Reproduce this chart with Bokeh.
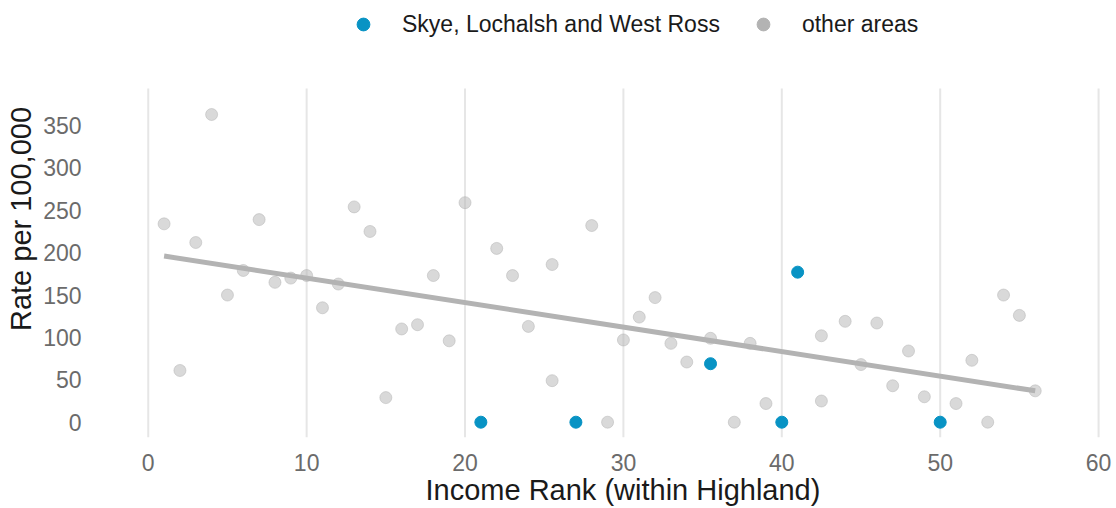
from bokeh.plotting import figure
from bokeh.models import Range1d, FixedTicker, Legend, LegendItem, ColumnDataSource, Title
from bokeh.embed import file_html
from bokeh.resources import INLINE

# ---- data ----
other_rank = [1, 2, 3, 4, 5, 6, 7, 8, 9, 10, 11, 12, 13, 14, 15, 16, 17, 18, 19, 20,
              22, 23, 24, 25.5, 25.5, 28, 29, 30, 31, 32, 33, 34, 35.5, 37, 38, 39,
              42.5, 42.5, 44, 45, 46, 47, 48, 49, 51, 52, 53, 54, 55, 56]
other_rate = [234, 61, 212, 363, 150, 179, 239, 165, 170, 173, 135, 163, 254, 225, 29, 110, 115, 173, 96, 259,
              205, 173, 113, 186, 49, 232, 0, 97, 124, 147, 93, 71, 99, 0, 93, 22,
              102, 25, 119, 68, 117, 43, 84, 30, 22, 73, 0, 150, 126, 37]
skye_rank = [21, 27, 35.5, 40, 41, 50]
skye_rate = [0, 0, 69, 0, 177, 0]
trend_rank = [1, 56]
trend_rate = [196, 37]
x_ticks = [0, 10, 20, 30, 40, 50, 60]
y_ticks = [0, 50, 100, 150, 200, 250, 300, 350]
series_names = ["Skye, Lochalsh and West Ross", "other areas"]
x_title = "Income Rank (within Highland)"
y_title = "Rate per 100,000"

BLUE = "#0893c4"
GREY = "#b3b3b3"
FONT = "Liberation Sans"

# panel spans Y_LO..Y_PANEL_TOP; the space above holds the legend
Y_LO, Y_PANEL_TOP, Y_CANVAS_TOP = -18.05, 393.7, 497.5

p = figure(width=1116, height=508, output_backend="svg", toolbar_location=None,
           x_range=Range1d(-3.52, 60.5), y_range=Range1d(Y_LO, Y_CANVAS_TOP),
           min_border_left=92, min_border_right=10, min_border_top=0, min_border_bottom=71)
p.outline_line_color = None
p.background_fill_color = "white"
p.xgrid.visible = False
p.ygrid.visible = False

# vertical grid lines at the x ticks, limited to the panel height
p.segment(x0=x_ticks, y0=[Y_LO] * len(x_ticks), x1=x_ticks, y1=[Y_PANEL_TOP] * len(x_ticks),
          line_color="#e6e6e6", line_width=2)

for ax in (p.xaxis[0], p.yaxis[0]):
    ax.axis_line_color = None
    ax.major_tick_line_color = None
    ax.minor_tick_line_color = None
    ax.major_label_text_font = FONT
    ax.major_label_text_font_size = "23px"
    ax.major_label_text_color = "#6b6b6b"
    ax.axis_label_text_font = FONT
    ax.axis_label_text_font_size = "29px"
    ax.axis_label_text_font_style = "normal"
    ax.axis_label_text_color = "#1a1a1a"

p.xaxis.ticker = FixedTicker(ticks=x_ticks)
p.yaxis.ticker = FixedTicker(ticks=y_ticks)
p.yaxis.axis_label = y_title
p.xaxis.major_label_standoff = 10
p.yaxis.major_label_standoff = 5
p.yaxis.axis_label_standoff = 3

# x-axis title (placed as a below-title so it can sit off-centre like the original)
p.add_layout(Title(text=x_title, align="left", offset=333, standoff=0,
                   vertical_align="top", text_font=FONT, text_font_size="29px",
                   text_font_style="normal", text_color="#1a1a1a"), "below")

src_other = ColumnDataSource(dict(x=other_rank, y=other_rate))
src_skye = ColumnDataSource(dict(x=skye_rank, y=skye_rate))

p.scatter("x", "y", source=src_other, size=12, fill_color=GREY, fill_alpha=0.5,
          line_color=GREY, line_alpha=0.5, line_width=1)
p.line(trend_rank, trend_rate, line_color=GREY, line_width=5)
r_skye = p.scatter("x", "y", source=src_skye, size=12, fill_color=BLUE, line_color=BLUE)

# hidden full-opacity copy of the grey series, used only for its legend key
r_other_leg = p.scatter("x", "y", source=src_other, size=12, fill_color=GREY,
                        line_color=GREY, visible=False)

legend = Legend(items=[LegendItem(label=series_names[0], renderers=[r_skye]),
                       LegendItem(label=series_names[1], renderers=[r_other_leg])],
                orientation="horizontal", location=(255, 397),
                padding=0, spacing=27, label_standoff=23,
                glyph_width=32, glyph_height=32,
                label_text_font=FONT, label_text_font_size="23px",
                label_text_color="#1a1a1a",
                inactive_fill_alpha=0,
                border_line_color=None, background_fill_alpha=0)
p.add_layout(legend, "center")

open("out.html", "w").write(file_html(p, INLINE))
